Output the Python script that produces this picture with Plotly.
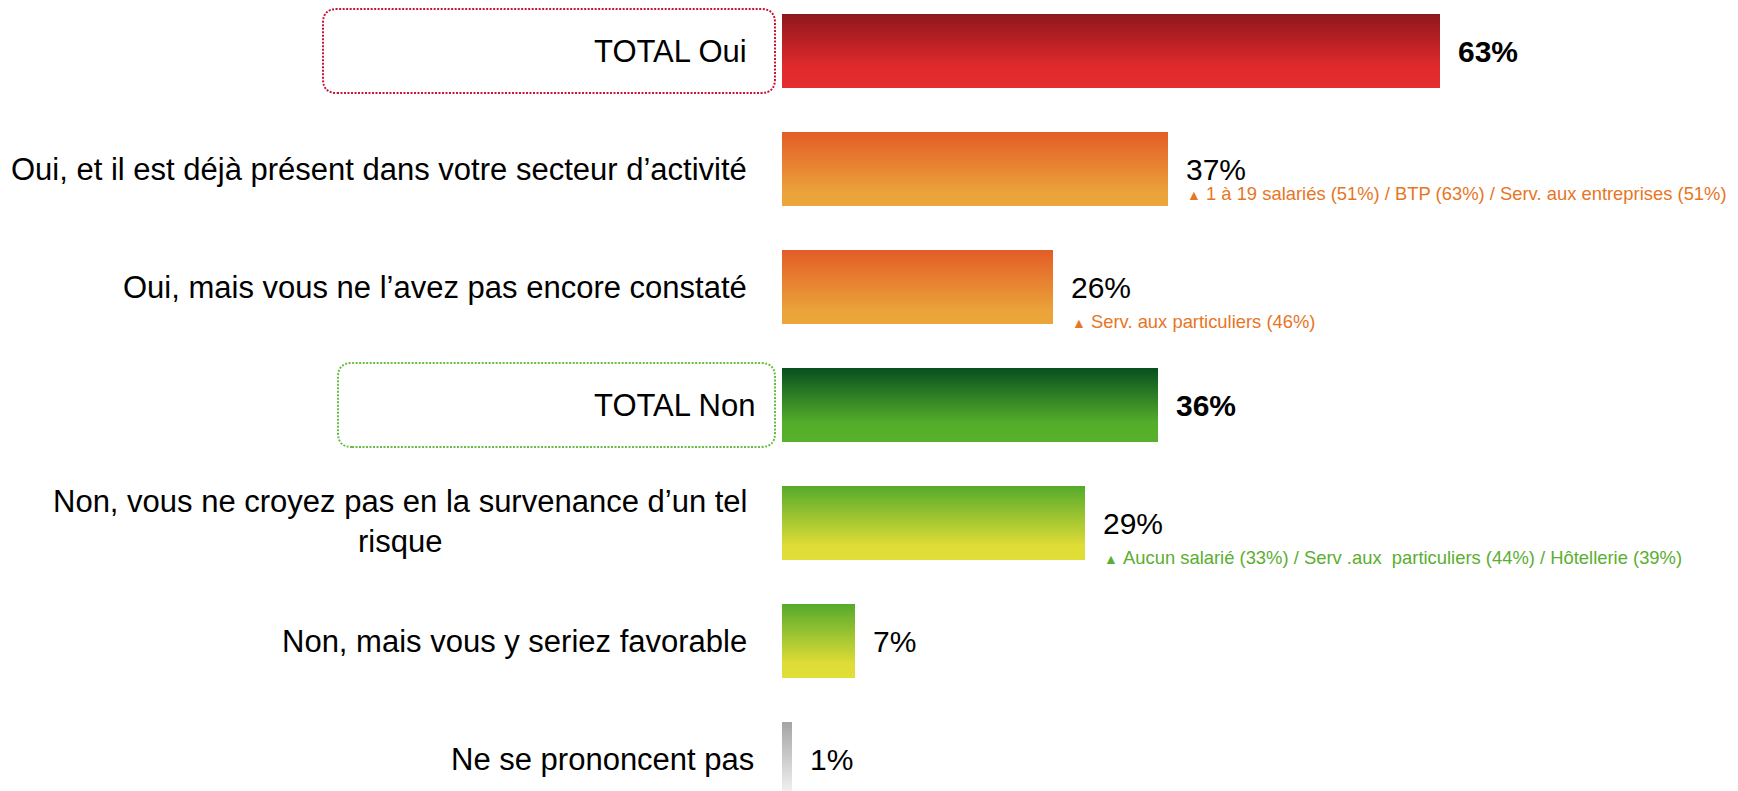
import plotly.graph_objects as go

# ---- data -------------------------------------------------------------
categories = [
    "TOTAL Oui",
    "Oui, et il est déjà présent dans votre secteur d’activité",
    "Oui, mais vous ne l’avez pas encore constaté",
    "TOTAL Non",
    "Non, vous ne croyez pas en la survenance d’un tel<br>risque",
    "Non, mais vous y seriez favorable",
    "Ne se prononcent pas",
]
values = [63, 37, 26, 36, 29, 7, 1]
value_labels = ["63%", "37%", "26%", "36%", "29%", "7%", "1%"]
is_total = [True, False, False, True, False, False, False]

note_rows = [1, 2, 4]
note_texts = [
    "1 à 19 salariés (51%) / BTP (63%) / Serv. aux entreprises (51%)",
    "Serv. aux particuliers (46%)",
    "Aucun salarié (33%) / Serv .aux  particuliers (44%) / Hôtellerie (39%)",
]

# ---- styles -----------------------------------------------------------
FONT = "Liberation Sans, Arial, sans-serif"
ORANGE_TXT = "#E8751F"
GREEN_TXT = "#5AAE30"

gradients = {
    "red": [(0.0, "#8E171C"), (0.72, "#E12A2C"), (1.0, "#E42E2F")],
    "orange": [(0.0, "#E35C27"), (0.82, "#EBA33A"), (1.0, "#ECA63B")],
    "green": [(0.0, "#07501F"), (0.74, "#54AD2A"), (1.0, "#58B02B")],
    "lime": [(0.0, "#55AA2B"), (0.8, "#DEDC36"), (1.0, "#E0DE37")],
    "gray": [(0.0, "#A4A4A4"), (1.0, "#F5F5F5")],
}
row_palette = ["red", "orange", "orange", "green", "lime", "lime", "gray"]
note_colors = [ORANGE_TXT, ORANGE_TXT, GREEN_TXT]
note_dy = {1: 24, 2: 34, 4: 34}          # pixels below the bar centre
label_nudge = {3: 8, 6: 7}               # extra right shift for some labels

# dotted frames around the totals: row -> (left offset px, colour)
frames = {0: (-459, "#C8163A"), 3: (-444, "#67BD45")}

BAR_W = 0.627          # bar thickness in category units
N_SLICES = 37          # horizontal slices used for the vertical gradient

# axis geometry: 10.44 px per percentage point, 118 px per row
PLOT_LEFT = 782
WIDTH, HEIGHT = 1738, 791
px_per_pct = 10.44
row_px = 118
first_centre = 51
y_range = [(HEIGHT - first_centre) / row_px, -first_centre / row_px]


def hex_to_rgb(h):
    h = h.lstrip("#")
    return tuple(int(h[i:i + 2], 16) for i in (0, 2, 4))


def gradient_color(stops, t):
    for (t0, c0), (t1, c1) in zip(stops[:-1], stops[1:]):
        if t <= t1:
            f = 0 if t1 == t0 else (t - t0) / (t1 - t0)
            a, b = hex_to_rgb(c0), hex_to_rgb(c1)
            r = [round(a[k] + (b[k] - a[k]) * f) for k in range(3)]
            return "rgb(%d,%d,%d)" % tuple(r)
    return stops[-1][1]


def row_to_paper(row):
    return (y_range[0] - row) / (y_range[0] - y_range[1])


ypos = list(range(len(categories)))
fig = go.Figure()

# bars: each slice is one bar trace spanning all rows, coloured per row
step = BAR_W / N_SLICES
for k in range(N_SLICES):
    t = (k + 0.5) / N_SLICES
    fig.add_trace(go.Bar(
        x=values,
        y=ypos,
        orientation="h",
        width=step * 1.06,
        offset=-BAR_W / 2 + k * step,
        marker=dict(color=[gradient_color(gradients[p], t) for p in row_palette],
                    line=dict(width=0)),
        hoverinfo="skip",
        showlegend=False,
    ))

annotations = []

# category labels (left of the bars)
for i, cat in enumerate(categories):
    multi = "<br>" in cat
    annotations.append(dict(
        x=0, y=i, xref="x", yref="y", text=cat, showarrow=False,
        xanchor="right", yanchor="middle",
        xshift=-33 + label_nudge.get(i, 0), yshift=2 if multi else 0,
        align="center" if multi else "right",
        font=dict(family=FONT, size=31, color="#000000"),
    ))

# value labels
for i, (v, lab) in enumerate(zip(values, value_labels)):
    txt = "<b>%s</b>" % lab if is_total[i] else lab
    annotations.append(dict(
        x=v, y=i, xref="x", yref="y", text=txt, showarrow=False,
        xanchor="left", yanchor="middle", xshift=16,
        font=dict(family=FONT, size=30, color="#000000"),
    ))

# significance notes under some bars
for row, txt, col in zip(note_rows, note_texts, note_colors):
    annotations.append(dict(
        x=values[row], y=row, xref="x", yref="y",
        text='<span style="font-size:14px">▲</span>\u00a0' + txt,
        showarrow=False, xanchor="left", yanchor="middle",
        xshift=17, yshift=-note_dy[row],
        font=dict(family=FONT, size=18.4, color=col),
    ))


def rounded_rect(x0, x1, y0, y1, r):
    return (f"M {x0 + r},{y0} L {x1 - r},{y0} Q {x1},{y0} {x1},{y0 + r} "
            f"L {x1},{y1 - r} Q {x1},{y1} {x1 - r},{y1} "
            f"L {x0 + r},{y1} Q {x0},{y1} {x0},{y1 - r} "
            f"L {x0},{y0 + r} Q {x0},{y0} {x0 + r},{y0} Z")


shapes = []
for row, (left, col) in frames.items():
    shapes.append(dict(
        type="path", xref="paper", yref="paper",
        xsizemode="pixel", ysizemode="pixel",
        xanchor=0, yanchor=row_to_paper(row),
        path=rounded_rect(left, -7, -42, 42, 14),
        line=dict(color=col, width=2, dash="2px,1.5px"),
        fillcolor="rgba(0,0,0,0)",
        layer="above",
    ))

fig.update_layout(
    width=WIDTH, height=HEIGHT,
    margin=dict(l=PLOT_LEFT, r=0, t=0, b=0, pad=0),
    paper_bgcolor="white", plot_bgcolor="white",
    barmode="overlay", bargap=0,
    showlegend=False,
    xaxis=dict(range=[0, (WIDTH - PLOT_LEFT) / px_per_pct], visible=False,
               fixedrange=True),
    yaxis=dict(range=y_range, visible=False, fixedrange=True),
    annotations=annotations,
    shapes=shapes,
)

fig.write_html("out.html", config={"displayModeBar": False})
